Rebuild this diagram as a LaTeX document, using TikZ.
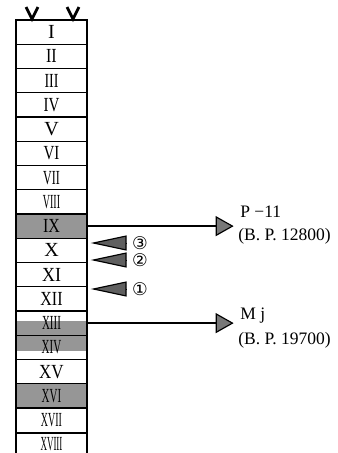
\documentclass[tikz,border=0pt]{standalone}
\usepackage{fontspec}
\usepackage{graphicx}
\setmainfont{Liberation Serif}
\newfontfamily\circfont{DejaVu Sans}
\usetikzlibrary{arrows.meta,positioning,calc,backgrounds}
\definecolor{stGrey} {RGB}{150,150,150}
\definecolor{stGreyA}{RGB}{120,120,120}
\definecolor{stGreyD}{RGB}{ 95, 95, 95}

\begin{document}
\begin{tikzpicture}[x=0.6pt,y=-0.6pt,
  every node/.style={font=\fontsize{12}{13}\selectfont},
  cell/.style ={draw,line width=0.8pt,minimum width=42.6pt,minimum height=14.55pt,
                inner sep=0pt},
  dots/.style ={fill=stGrey},
  lbl/.style  ={anchor=west,inner sep=0pt,font=\fontsize{10.5}{12}\selectfont},
  num/.style  ={inner sep=0pt,font=\circfont\fontsize{10.5}{11}\selectfont},
  bigarr/.style={line width=1.4pt,
                 -{Triangle[length=10.8pt,width=12pt,fill=stGreyA,line width=0.7pt]}},
  wedge/.style={line width=0.6pt,shorten <=3.6pt,shorten >=1.8pt,
                -{Triangle[length=21.6pt,width=9pt,fill=stGreyD,line width=0.7pt]}},
  vmark/.style={line width=1.7pt}
]
\useasboundingbox (0,0) rectangle (338,453);

\foreach \i/\t/\s in {1/I/1,2/II/.8,3/III/.7,4/IV/.75,5/V/1,6/VI/.75,7/VII/.6,8/VIII/.5,
                      9/IX/.8,10/X/1,11/XI/.9,12/XII/.8,13/XIII/.55,14/XIV/.55,15/XV/.85,
                      16/XVI/.55,17/XVII/.5}
  \node[cell] (r\i) at (51.5,{20+24.25*(\i-0.5)}) {\scalebox{\s}[1]{\t}};
\node[cell,minimum height=12.4pt,below=0pt of r17] (r18) {\scalebox{.45}[1]{XVIII}};

\begin{scope}[on background layer]
\fill[dots] (r9.south west) rectangle (r9.north east);
\fill[dots] (r16.south west) rectangle (r16.north east);
\fill[dots] ([yshift=1pt]r13.west) rectangle ([yshift=-2pt]r14.east);
\end{scope}

\draw[vmark] (26,7) -- (32,19) -- (38,7);
\draw[vmark] (67,7) -- (73,19) -- (79,7);

\coordinate (pEnd) at ([xshift=87.6pt]r9.east);
\coordinate (mEnd) at (pEnd |- r13.east);
\node[lbl] (p11) at (240,212) {P −11};
\node[lbl] (bp1) at (238,236) {(B. P. 12800)};
\node[lbl] (mj)  at (240,316) {M j};
\node[lbl] (bp2) at (238,340) {(B. P. 19700)};
\draw[bigarr] (r9.east) -- (pEnd);
\draw[bigarr] (r13.east) -- (mEnd);

\node[num] (n3) at (140,243) {③};
\node[num] (n2) at (140,260) {②};
\node[num] (n1) at (140,289) {①};
\foreach \n in {n3,n2,n1} \draw[wedge] (\n.west) -- (\n.west -| r10.east);
\end{tikzpicture}
\end{document}
